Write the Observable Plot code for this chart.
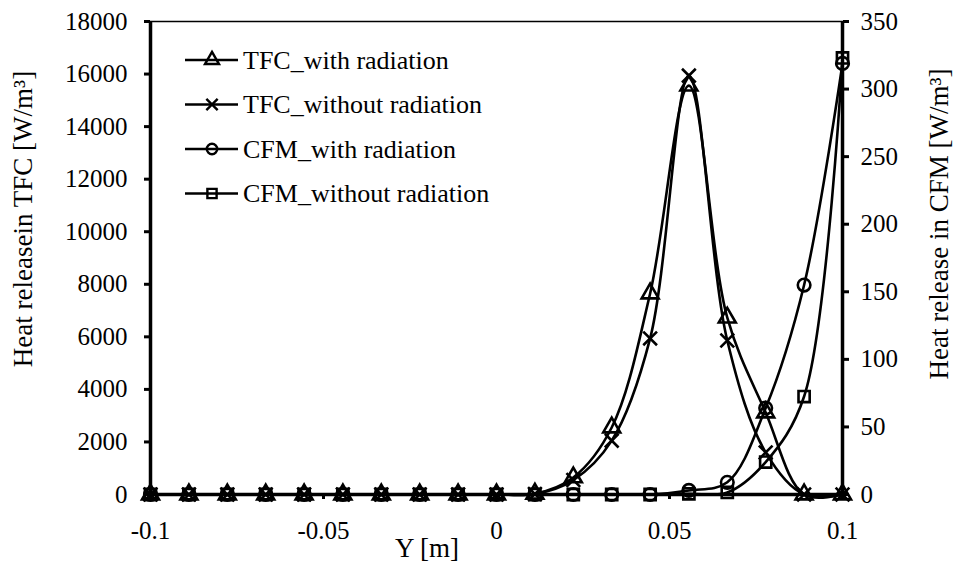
<!DOCTYPE html>
<html><head><meta charset="utf-8">
<script src="https://cdn.jsdelivr.net/npm/d3@7"></script>
<script src="https://cdn.jsdelivr.net/npm/@observablehq/plot@0.6"></script>
<style>
body{margin:0;background:#fff;}
#chart{width:960px;height:577px;}
#chart svg text{font-family:"Liberation Serif" !important;}
</style>
</head><body><div id="chart"></div>
<script>
// Y positions [m]
const yPos = [-0.1, -0.0889, -0.0778, -0.0667, -0.0556, -0.0444, -0.0333, -0.0222, -0.0111, 0,
              0.0111, 0.0222, 0.0333, 0.0444, 0.0556, 0.0667, 0.0778, 0.0889, 0.1];
// Heat release in TFC [W/m3] (left axis)
const tfcWith    = [0,0,0,0,0,0,0,0,0,0, 30, 650, 2550, 7650, 15560, 6730, 3120, 0, 0];
const tfcWithout = [0,0,0,0,0,0,0,0,0,0, 20, 550, 2050, 5940, 15940, 5860, 1600, 0, 0];
// Heat release in CFM [W/m3] (right axis)
const cfmWith    = [0,0,0,0,0,0,0,0,0,0, 0, 0, 0, 0, 3, 9, 64, 155, 319];
const cfmWithout = [0,0,0,0,0,0,0,0,0,0, 0, 0, 0, 0, 0.5, 1.5, 24, 72.5, 323];

const seriesNames = ["TFC_with radiation", "TFC_without radiation", "CFM_with radiation", "CFM_without radiation"];
const symbols = ["triangle", "times", "circle", "square"];
const leftTicks = d3.range(0, 18001, 2000);
const rightTicks = d3.range(0, 351, 50);
const xTicks = [-0.1, -0.05, 0, 0.05, 0.1];
const leftTitle = "Heat releasein TFC [W/m³]";
const rightTitle = "Heat release in CFM [W/m³]";
const xTitle = "Y [m]";

const k = 18000 / 350;
const seriesVals = [tfcWith, tfcWithout, cfmWith.map(v => v * k), cfmWithout.map(v => v * k)];
const data = [];
seriesNames.forEach((s, i) => yPos.forEach((x, j) => data.push({series: s, x, y: seriesVals[i][j]})));

const font = "Liberation Serif";
const chart = Plot.plot({
  width: 960, height: 577,
  marginLeft: 150, marginRight: 118, marginTop: 21, marginBottom: 83,
  style: {fontFamily: font, fontSize: "25px", color: "black", background: "white"},
  x: {domain: [-0.1, 0.1]},
  y: {domain: [0, 18000]},
  symbol: {domain: seriesNames, range: symbols},
  marks: [
    Plot.frame({stroke: "black", strokeWidth: 1.5}),
    Plot.axisY({ticks: leftTicks, tickSize: 6, tickPadding: 17, strokeWidth: 3, tickFormat: d => String(d),
      fontSize: 25, label: null}),
    Plot.axisY({anchor: "right", ticks: rightTicks.map(v => v * k), tickSize: 6, tickPadding: 12, strokeWidth: 3,
      tickFormat: d => String(Math.round(d / k)), fontSize: 25, label: null}),
    Plot.axisX({ticks: xTicks, tickSize: 5, tickPadding: 22, strokeWidth: 3, tickFormat: d => String(d),
      fontSize: 25, label: null}),
    Plot.line(data, {x: "x", y: "y", z: "series", curve: "catmull-rom", stroke: "black", strokeWidth: 2.6}),
    Plot.dot(data, {x: "x", y: "y", symbol: "series", r: 6.3, stroke: "black", strokeWidth: 2.6, fill: "none"}),
    Plot.ruleX([-0.1, 0.1], {stroke: "black", strokeWidth: 3.5}),
    Plot.ruleY([0], {stroke: "black", strokeWidth: 3.5})
  ]
});
document.getElementById("chart").appendChild(chart);

const svg = d3.select(chart);
// Axis titles
const tg = svg.append("g").attr("font-family", font).attr("font-size", 27).attr("fill", "black").attr("text-anchor", "middle");
tg.append("text").attr("transform", "translate(32,219) rotate(-90)").text(leftTitle);
tg.append("text").attr("transform", "translate(948,224) rotate(-90)").text(rightTitle);
tg.append("text").attr("x", 427).attr("y", 557).text(xTitle);

// Legend inside plot area
const lg = svg.append("g").attr("font-family", font).attr("font-size", 26).attr("text-anchor", "start").attr("fill", "black");
const symMap = {triangle: d3.symbolTriangle, times: d3.symbolTimes, circle: d3.symbolCircle, square: d3.symbolSquare};
seriesNames.forEach((s, i) => {
  const yy = 60 + i * 44.5;
  const g = lg.append("g").attr("transform", `translate(185,${yy})`);
  g.append("line").attr("x1", 0).attr("x2", 53).attr("stroke", "black").attr("stroke-width", 2.6);
  g.append("path").attr("transform", "translate(27,0)")
    .attr("d", d3.symbol(symMap[symbols[i]], 85)())
    .attr("fill", "none").attr("stroke", "black").attr("stroke-width", 2.4);
  g.append("text").attr("x", 58).attr("dy", "0.33em").attr("text-anchor", "start").text(s);
});
</script>
</body></html>
